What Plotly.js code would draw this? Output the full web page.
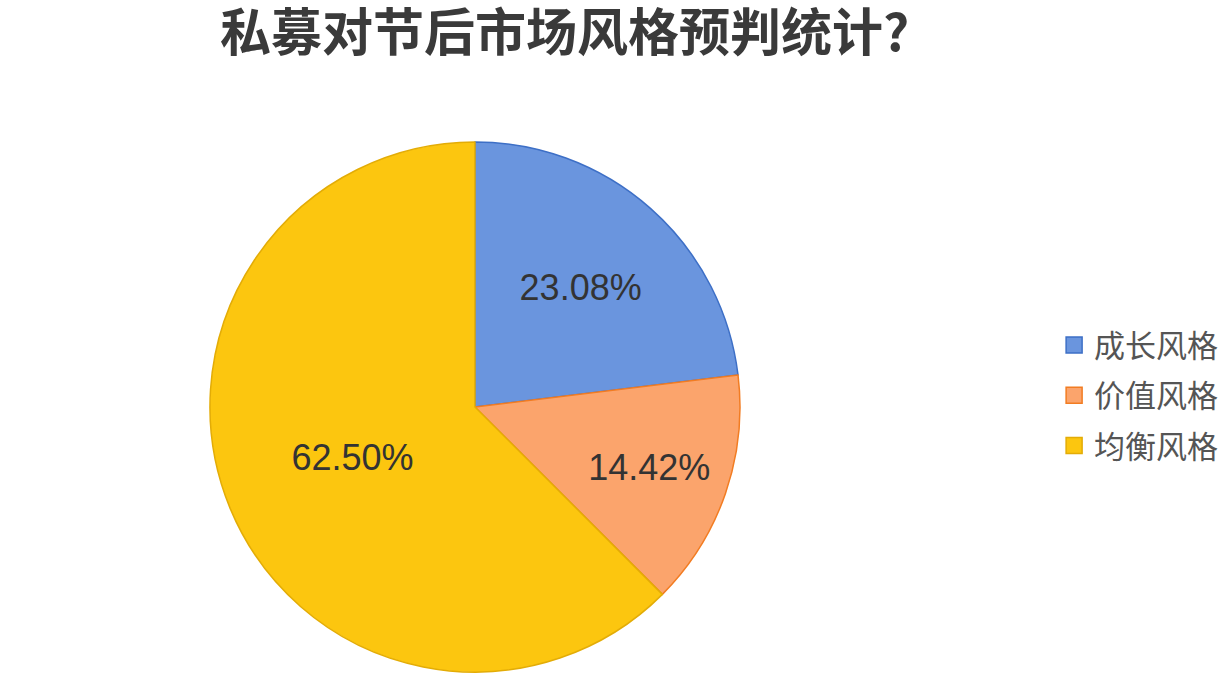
<!DOCTYPE html>
<html>
<head>
<meta charset="utf-8">
<script src="https://cdn.plot.ly/plotly-3.0.1.min.js"></script>
<style>
  html, body { margin: 0; padding: 0; background: white; }
  #chart { width: 1230px; height: 696px; }
</style>
</head>
<body>
<div id="chart"></div>
<script>
// style names and shares (%) as printed on the slices
const styles = ['成长风格', '价值风格', '均衡风格'];
const shares = [23.08, 14.42, 62.50];
const fills = ['#6a95de', '#fba46c', '#fcc60f'];
const edges = ['#3d6fc6', '#f27c22', '#e3ac06'];

const pie = {
  type: 'pie',
  labels: styles,
  values: shares,
  sort: false,
  direction: 'clockwise',
  rotation: 0,
  showlegend: false,
  texttemplate: '%{value:.2f}%',
  textposition: 'inside',
  insidetextorientation: 'horizontal',
  textfont: { family: 'Liberation Sans, Arial, sans-serif', size: 36, color: '#333333' },
  marker: { colors: fills, line: { color: edges, width: 1.5 } },
  domain: { x: [0.1707, 0.6016], y: [0.0345, 0.796] },
  hoverinfo: 'label+percent'
};

// legend entries: empty square-marker traces so the squares and row gaps match
const legendTraces = styles.map((s, i) => ({
  type: 'scatter',
  x: [null],
  y: [null],
  mode: 'markers',
  name: s,
  legendgroup: s,
  showlegend: true,
  marker: { symbol: 'square', size: 16, color: fills[i], line: { color: edges[i], width: 1.5 } },
  hoverinfo: 'skip'
}));

const layout = {
  width: 1230,
  height: 696,
  margin: { l: 0, r: 0, t: 0, b: 0 },
  paper_bgcolor: 'white',
  plot_bgcolor: 'white',
  xaxis: { visible: false },
  yaxis: { visible: false },
  title: {
    text: '<b>私募对节后市场风格预判统计?</b>',
    x: 0.459,
    xanchor: 'center',
    y: 0.953,
    yanchor: 'middle',
    font: { family: 'Noto Sans CJK SC, sans-serif', size: 51, color: '#3a3a3a' }
  },
  showlegend: true,
  legend: {
    x: 0.857,
    xanchor: 'left',
    y: 0.432,
    yanchor: 'middle',
    tracegroupgap: 7,
    font: { family: 'Noto Sans CJK SC, sans-serif', size: 31, color: '#555555' },
    bgcolor: 'rgba(0,0,0,0)'
  }
};

Plotly.newPlot('chart', [pie].concat(legendTraces), layout, { displayModeBar: false, staticPlot: true });
</script>
</body>
</html>
